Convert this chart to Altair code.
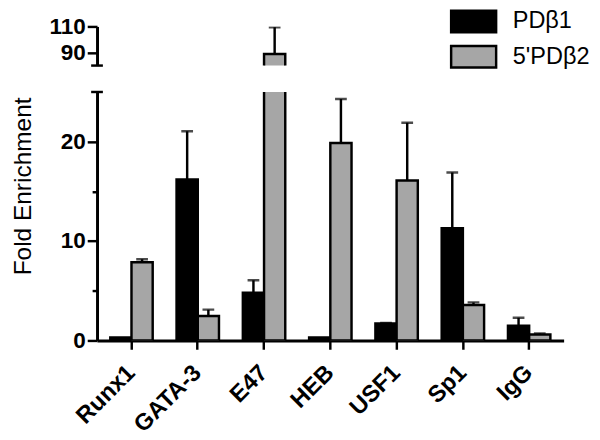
import altair as alt
import pandas as pd

cats = ["Runx1", "GATA-3", "E47", "HEB", "USF1", "Sp1", "IgG"]
series = ["PDβ1", "5'PDβ2"]
pdb1 = [0.3, 16.2, 4.8, 0.3, 1.7, 11.3, 1.47]
pdb1_top = [None, 21.05, 6.05, None, 1.75, 16.9, 2.29]
pdb2 = [7.86, 2.46, 88.8, 19.87, 16.1, 3.56, 0.59]
pdb2_top = [8.18, 3.1, 109.3, 24.3, 21.9, 3.83, 0.69]

upper_domain = [80, 110]
lower_domain = [0, 25]
upper_ticks = [90, 110]
lower_ticks = [0, 5, 10, 15, 20]

rows = []
for i, c in enumerate(cats):
    rows.append(dict(cat=c, series=series[0], value=pdb1[i], top=pdb1_top[i]))
    rows.append(dict(cat=c, series=series[1], value=pdb2[i], top=pdb2_top[i]))
df = pd.DataFrame(rows)

FONT = "Liberation Sans"
W = 477

xo = alt.XOffset("series:N", sort=series, scale=alt.Scale(paddingInner=0, paddingOuter=0))
fill_legend = alt.Legend(
    title=None, orient="none", legendX=362, legendY=-18,
    labelFontSize=24, labelFont=FONT, labelFontWeight="normal", labelColor="black",
    symbolType="M-2,-0.96H2V0.96H-2Z", symbolSize=529,
    symbolStrokeColor="black", symbolStrokeWidth=2.5, symbolOpacity=1,
    symbolOffset=10, labelOffset=27, rowPadding=2,
)


def panel(domain, yaxis, xaxis, height, cap_value):
    x_enc = alt.X("cat:N", sort=cats, scale=alt.Scale(paddingInner=0.36, paddingOuter=0.2), axis=xaxis)
    yscale = alt.Scale(domain=domain, nice=False, zero=False)
    fill = alt.Fill("series:N", sort=series,
                    scale=alt.Scale(domain=series, range=["#000000", "#a6a6a6"]),
                    legend=fill_legend)
    base = alt.Chart(df)
    bars = base.mark_bar(stroke="black", strokeWidth=2.5, clip=True).encode(
        x=x_enc, xOffset=xo, y=alt.Y("value:Q", scale=yscale, axis=yaxis), fill=fill)
    errdf = base.transform_filter("isValid(datum.top) && isFinite(datum.top)")
    err = errdf.mark_rule(color="black", strokeWidth=2.5, clip=True).encode(
        x=x_enc, xOffset=xo, y=alt.Y("value:Q", scale=yscale, axis=yaxis), y2="top:Q")
    caps = errdf.mark_tick(color="black", size=12, thickness=2.5, clip=True).encode(
        x=x_enc, xOffset=xo, y=alt.Y("top:Q", scale=yscale, axis=yaxis))
    brk = alt.Chart(pd.DataFrame({"b": [cap_value]})).mark_rule(color="black", strokeWidth=2.5).encode(
        x=alt.value(-6), x2=alt.value(6), y=alt.Y("b:Q", scale=yscale, axis=yaxis))
    return alt.layer(bars, err, caps, brk).properties(width=W, height=height)


upper_axis = alt.Axis(values=upper_ticks, tickSize=10, title=None)
lower_axis = alt.Axis(
    values=lower_ticks,
    tickSize={"condition": {"test": "datum.value % 10 === 0", "value": 10}, "value": 5},
    labelExpr="datum.value % 10 === 0 ? datum.label : ''",
    title="Fold Enrichment", titleX=-68, titleY=96, titleFontSize=25, titleFont=FONT,
    titleFontWeight="normal", titleBaseline="alphabetic", titleColor="black",
)
x_axis = alt.Axis(title=None, labelAngle=-45, labelAlign="right", labelBaseline="middle",
                  tickSize=9, labelPadding=20, labelFontSize=24)

top = panel(upper_domain, upper_axis, None, 40, upper_domain[0])
bottom = panel(lower_domain, lower_axis, x_axis, 254, lower_domain[1])

chart = alt.vconcat(top, bottom, spacing=23).resolve_scale(
    y="independent", x="shared", fill="shared"
).properties(
    padding={"left": 2, "top": -4, "right": 2, "bottom": 2}
).configure_axis(
    domainColor="black", domainWidth=3, tickColor="black", tickWidth=2.5,
    labelColor="black", labelFont=FONT, labelFontSize=23, labelFontWeight="bold",
    grid=False, labelPadding=2,
).configure_view(stroke=None)

chart.save("out.html", embed_options={"renderer": "svg", "actions": False})
